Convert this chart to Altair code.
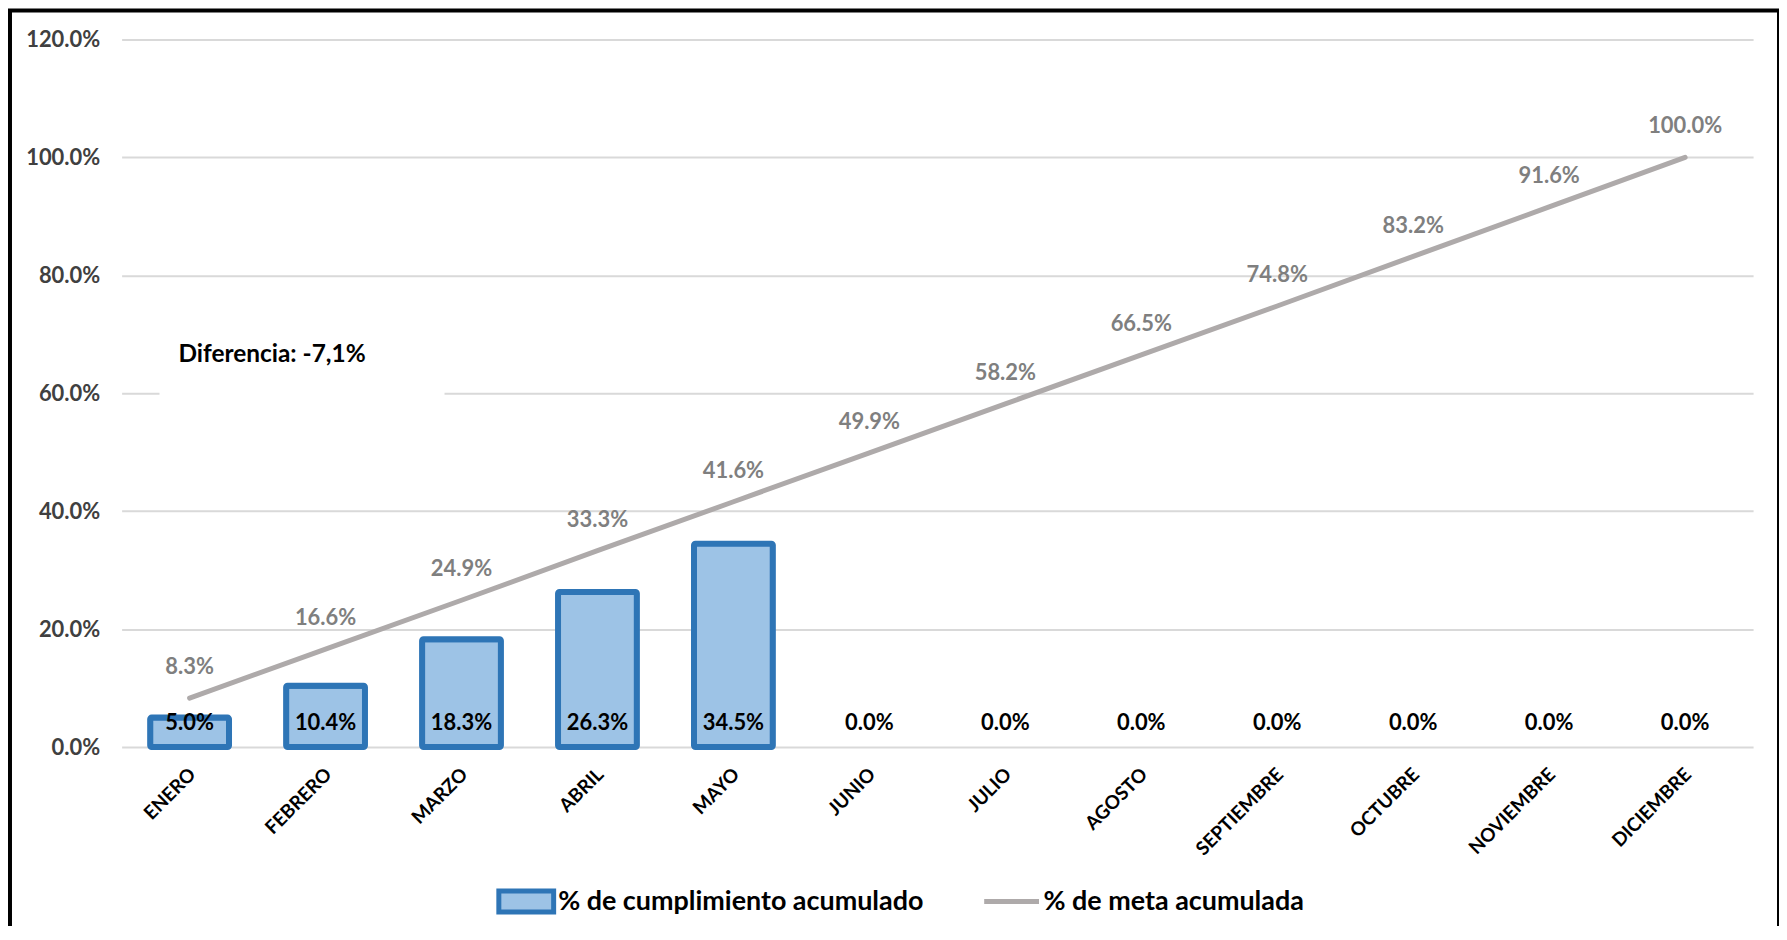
import altair as alt
import pandas as pd

meses = ["ENERO", "FEBRERO", "MARZO", "ABRIL", "MAYO", "JUNIO", "JULIO",
         "AGOSTO", "SEPTIEMBRE", "OCTUBRE", "NOVIEMBRE", "DICIEMBRE"]
cumplimiento = [0.050, 0.104, 0.183, 0.263, 0.345, 0.0, 0.0, 0.0, 0.0, 0.0, 0.0, 0.0]
meta = [0.083, 0.166, 0.249, 0.333, 0.416, 0.499, 0.582, 0.665, 0.748, 0.832, 0.916, 1.000]
serie_barras = "% de cumplimiento acumulado"
serie_linea = "% de meta acumulada"
nota = "Diferencia: -7,1%"

FONT = "Lato"

df = pd.DataFrame({
    "mes": meses,
    "cumplimiento": cumplimiento,
    "meta": meta,
    "base": [0.0] * len(meses),
    "sb": [serie_barras] * len(meses),
    "sl": [serie_linea] * len(meses),
})

x_enc = alt.X(
    "mes:N", sort=meses, title=None,
    scale=alt.Scale(paddingInner=0.42, paddingOuter=0.21),
    axis=alt.Axis(labelAngle=315, labelAlign="right", labelBaseline="middle",
                  labelFont=FONT, labelFontSize=19, labelFontWeight="bold",
                  labelColor="#000000", labelPadding=24, labelOffset=3, ticks=False,
                  domain=False, grid=False),
)
y_scale = alt.Scale(domain=[0, 1.2], nice=False)
y_axis = alt.Axis(values=[0, 0.2, 0.4, 0.6, 0.8, 1.0, 1.2], format=".1%",
                  labelFont=FONT, labelFontSize=22, labelFontWeight="bold",
                  labelColor="#404040", labelPadding=22, ticks=False,
                  domain=False, gridColor="#D9D9D9", gridWidth=2, title=None)

base = alt.Chart(df).encode(x=x_enc)

bars = base.transform_filter("datum.cumplimiento > 0").mark_bar(
    stroke="#2E75B6", strokeWidth=6, cornerRadius=1.5
).encode(
    y=alt.Y("cumplimiento:Q", scale=y_scale, axis=y_axis),
    fill=alt.Fill("sb:N", scale=alt.Scale(domain=[serie_barras], range=["#9DC3E6"]),
                  legend=alt.Legend(title=None, orient="none", legendX=376, legendY=835,
                                    symbolType="M-1,-0.38H1V0.38H-1Z", symbolSize=3025,
                                    symbolStrokeColor="#2E75B6", symbolStrokeWidth=5,
                                    symbolOpacity=1, labelFont=FONT, labelFontSize=27,
                                    labelFontWeight="bold", labelColor="#000000",
                                    labelLimit=600, labelOffset=2, padding=0)),
)

line = base.mark_line(strokeWidth=5, strokeCap="round").encode(
    y=alt.Y("meta:Q", scale=y_scale),
    stroke=alt.Stroke("sl:N", scale=alt.Scale(domain=[serie_linea], range=["#AEAAAA"]),
                      legend=alt.Legend(title=None, orient="none", legendX=863, legendY=835,
                                        symbolType="stroke", symbolSize=3025,
                                        symbolStrokeWidth=5, labelFont=FONT,
                                        labelFontSize=27, labelFontWeight="bold",
                                        labelColor="#000000", labelLimit=600,
                                        labelOffset=2, padding=0)),
)

line_labels = base.mark_text(font=FONT, fontSize=22, fontWeight="bold",
                             color="#7F7F7F", dy=-31, baseline="middle").encode(
    y=alt.Y("meta:Q", scale=y_scale),
    text=alt.Text("meta:Q", format=".1%"),
)

bar_labels = base.mark_text(font=FONT, fontSize=22, fontWeight="bold",
                            color="#000000", dy=-24, baseline="middle").encode(
    y=alt.Y("base:Q", scale=y_scale),
    text=alt.Text("cumplimiento:Q", format=".1%"),
)

one = pd.DataFrame({"a": [0]})
white_box = alt.Chart(one).mark_rect(fill="white").encode(
    x=alt.value(38), x2=alt.value(324), y=alt.value(290), y2=alt.value(364))
note = alt.Chart(one).mark_text(font=FONT, fontSize=24.5, fontWeight="bold",
                                color="#000000", align="left", baseline="middle").encode(
    x=alt.value(57), y=alt.value(317), text=alt.value(nota))
frame = alt.Chart(one).mark_rect(fillOpacity=0, stroke="#000000", strokeWidth=4).encode(
    x=alt.value(-112), x2=alt.value(1663), y=alt.value(-29), y2=alt.value(1000))

chart = alt.layer(bars, line, line_labels, bar_labels, white_box, note, frame).properties(
    width=1637, height=710,
    autosize=alt.AutoSizeParams(type="none"),
    padding={"left": 114, "top": 30, "right": 26, "bottom": 178},
    background="white",
).configure_view(stroke=None)

chart.save("out.html", embed_options={"renderer": "svg", "actions": False})
